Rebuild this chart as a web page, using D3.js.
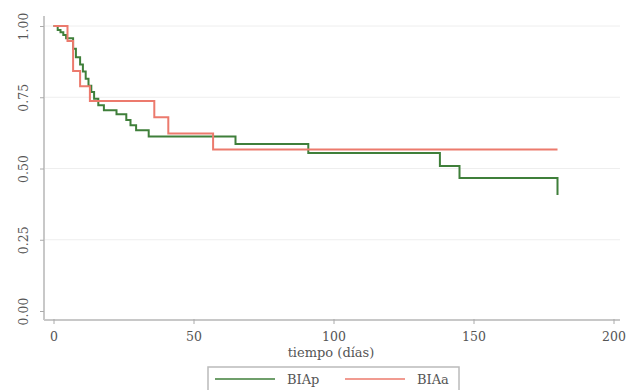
<!DOCTYPE html>
<html>
<head>
<meta charset="utf-8">
<script src="https://cdn.jsdelivr.net/npm/d3@7"></script>
<style>
  body { margin: 0; background: #fff; }
  svg { display: block; }
  text { font-family: "DejaVu Serif", "Liberation Serif", serif; fill: #555; }
</style>
</head>
<body>
<div id="chart"></div>
<script>
// Kaplan-Meier steps
const biapTime = [0, 1.5, 2.5, 3.5, 4.5, 7, 8, 9.5, 10.5, 11.5, 12.5, 13.5, 14.5, 16, 18, 22.5, 26, 27.5, 29.5, 34, 65, 91, 138, 145, 180];
const biapSurv = [1, 0.986, 0.978, 0.968, 0.957, 0.92, 0.89, 0.865, 0.84, 0.815, 0.79, 0.768, 0.745, 0.722, 0.704, 0.69, 0.67, 0.652, 0.634, 0.612, 0.586, 0.554, 0.509, 0.467, 0.407];

const biaaTime = [0, 5, 7, 9.5, 13, 36, 41, 57, 180];
const biaaSurv = [1, 0.947, 0.842, 0.789, 0.737, 0.680, 0.623, 0.567, 0.567];

const xTicks = [0, 50, 100, 150, 200];
const yTicks = [0, 0.25, 0.5, 0.75, 1];
const seriesNames = ["BIAp", "BIAa"];
const seriesColors = ["#3f7f3a", "#ec7a6d"];

const width = 626, height = 390;

const x = d3.scaleLinear().domain([0, 200]).range([53.5, 613.5]);
const y = d3.scaleLinear().domain([0, 1]).range([311, 26]);

const svg = d3.select("#chart").append("svg")
  .attr("width", width)
  .attr("height", height);

/* gridlines */
svg.append("g")
  .selectAll("line")
  .data(yTicks.filter(d => d > 0))
  .enter().append("line")
  .attr("x1", 45).attr("x2", 620)
  .attr("y1", d => y(d)).attr("y2", d => y(d))
  .attr("stroke", "#eeeeee")
  .attr("stroke-width", 1);

/* axes */
const xAxis = d3.axisBottom(x).tickValues(xTicks).tickSize(4).tickFormat(d3.format("d"));
const yAxis = d3.axisLeft(y).tickValues(yTicks).tickSize(4).tickFormat(d3.format(".2f"));

const gx = svg.append("g")
  .attr("transform", "translate(0,320)")
  .call(xAxis);
gx.select(".domain").attr("d", "M44,0H620").attr("stroke", "#c8c8c8").attr("stroke-width", 2);
gx.selectAll(".tick line").attr("stroke", "#aaa").attr("y1", -1);
gx.selectAll(".tick text").attr("y", 12).style("font-size", "12.5px").attr("fill", "#555");

const gy = svg.append("g")
  .attr("transform", "translate(44,0)")
  .call(yAxis);
gy.select(".domain").attr("d", "M0,16V320").attr("stroke", "#c8c8c8").attr("stroke-width", 2);
gy.selectAll(".tick line").attr("stroke", "#aaa");
gy.selectAll(".tick text")
  .attr("x", null).attr("dy", null)
  .attr("transform", "translate(-20,0) rotate(-90)")
  .attr("text-anchor", "middle")
  .attr("dominant-baseline", "middle")
  .style("font-size", "12.5px")
  .attr("fill", "#555");

svg.append("text")
  .attr("x", 331).attr("y", 357)
  .attr("text-anchor", "middle")
  .style("font-size", "13px")
  .text("tiempo (días)");

/* survival curves */
const line = d3.line()
  .x(d => x(d[0]))
  .y(d => y(d[1]))
  .curve(d3.curveStepAfter);

const series = [d3.zip(biapTime, biapSurv), d3.zip(biaaTime, biaaSurv)];

svg.append("g")
  .selectAll("path")
  .data(series)
  .enter().append("path")
  .attr("d", line)
  .attr("fill", "none")
  .attr("stroke", (d, i) => seriesColors[i])
  .attr("stroke-width", 2);

/* legend */
const legend = svg.append("g");
legend.append("rect")
  .attr("x", 208).attr("y", 367)
  .attr("width", 251).attr("height", 30)
  .attr("fill", "#fff")
  .attr("stroke", "#bbb")
  .attr("stroke-width", 1.5);

const legX = [215, 345];
seriesNames.forEach((name, i) => {
  legend.append("line")
    .attr("x1", legX[i]).attr("x2", legX[i] + 60)
    .attr("y1", 379).attr("y2", 379)
    .attr("stroke", seriesColors[i])
    .attr("stroke-width", 1.5);
  legend.append("text")
    .attr("x", legX[i] + 72).attr("y", 384)
    .style("font-size", "13px")
    .text(name);
});
</script>
</body>
</html>
